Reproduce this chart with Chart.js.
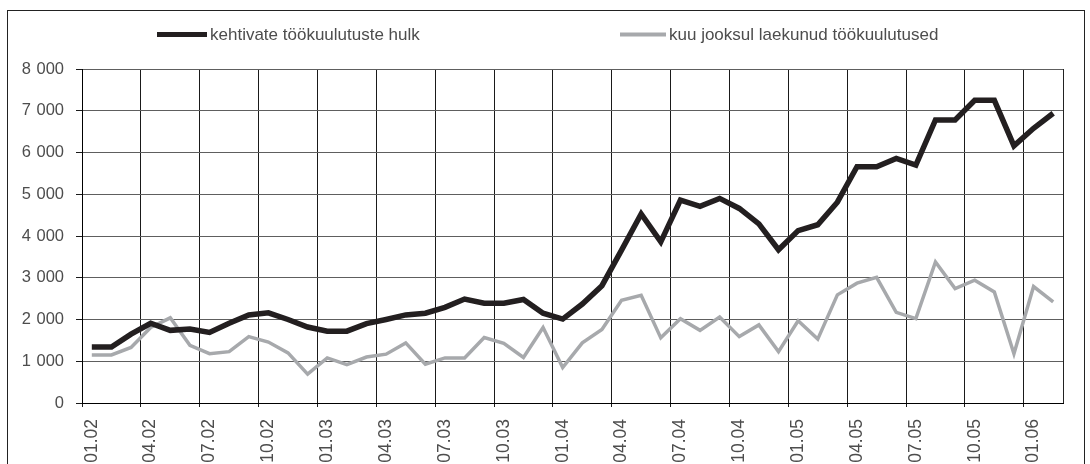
<!DOCTYPE html>
<html>
<head>
<meta charset="utf-8">
<script src="https://cdn.jsdelivr.net/npm/chart.js@4.4.1/dist/chart.umd.min.js"></script>
<style>
html,body{margin:0;padding:0;background:#fff;}
#wrap{position:relative;width:1090px;height:464px;}
</style>
</head>
<body>
<div id="wrap"><canvas id="c" width="1090" height="464"></canvas></div>
<script>
const months = ["01.02","02.02","03.02","04.02","05.02","06.02","07.02","08.02","09.02","10.02","11.02","12.02",
"01.03","02.03","03.03","04.03","05.03","06.03","07.03","08.03","09.03","10.03","11.03","12.03",
"01.04","02.04","03.04","04.04","05.04","06.04","07.04","08.04","09.04","10.04","11.04","12.04",
"01.05","02.05","03.05","04.05","05.05","06.05","07.05","08.05","09.05","10.05","11.05","12.05",
"01.06","02.06"];
const seriesNames = ["kehtivate töökuulutuste hulk", "kuu jooksul laekunud töökuulutused"];
const validAds = [1340,1340,1650,1910,1740,1770,1690,1910,2110,2160,2000,1820,
1720,1720,1900,2000,2110,2150,2290,2490,2390,2390,2480,2150,
2010,2370,2810,3660,4530,3860,4860,4710,4900,4660,4290,3670,
4130,4270,4810,5660,5660,5860,5700,6780,6780,7250,7250,6160,
6580,6940];
const newAds = [1150,1150,1330,1810,2040,1380,1180,1230,1590,1460,1200,690,
1080,920,1100,1170,1440,930,1080,1080,1570,1430,1090,1810,
850,1440,1760,2460,2580,1560,2020,1740,2060,1590,1870,1230,
1970,1530,2590,2870,3010,2170,2020,3380,2740,2940,2660,1180,
2790,2420];
const yTicks = [0,1000,2000,3000,4000,5000,6000,7000,8000];

const FONT = "'Liberation Sans', Arial, sans-serif";
const TXT = '#4d4d4d';
const colors = ['#231f20', '#a7a9ac'];
const widths = [5.5, 3.5];

function fmt(v){ return String(v).replace(/\B(?=(\d{3})+(?!\d))/g, '\u2004'); }

const frame = {
  id: 'frame',
  beforeDraw(chart){
    const c = chart.ctx;
    c.save();
    c.fillStyle = '#fff';
    c.fillRect(0,0,chart.width,chart.height);
    c.strokeStyle = '#222';
    c.lineWidth = 1;
    c.strokeRect(7.5, 10.5, 1077, 480);
    c.restore();
  },
  afterDraw(chart){
    const c = chart.ctx;
    const a = chart.chartArea;
    c.save();
    c.strokeStyle = '#222';
    c.lineWidth = 1;
    c.beginPath();
    c.moveTo(Math.round(a.right)+0.5, a.top);
    c.lineTo(Math.round(a.right)+0.5, a.bottom);
    c.stroke();
    const items = [{x0:157, x1:207, tx:210}, {x0:620, x1:666, tx:669}];
    c.font = "17px " + FONT;
    c.textBaseline = 'middle';
    c.fillStyle = TXT;
    items.forEach((it, i) => {
      c.strokeStyle = colors[i];
      c.lineWidth = i === 0 ? 5 : 4;
      c.beginPath();
      c.moveTo(it.x0, 34.5);
      c.lineTo(it.x1, 34.5);
      c.stroke();
      c.fillText(seriesNames[i], it.tx, 35);
    });
    c.restore();
  }
};

new Chart(document.getElementById('c'), {
  type: 'line',
  data: {
    labels: months,
    datasets: [
      { label: seriesNames[0], data: validAds, borderColor: colors[0], backgroundColor: colors[0],
        borderWidth: widths[0], pointRadius: 0, tension: 0, borderJoinStyle: 'miter', borderCapStyle: 'butt' },
      { label: seriesNames[1], data: newAds, borderColor: colors[1], backgroundColor: colors[1],
        borderWidth: widths[1], pointRadius: 0, tension: 0, borderJoinStyle: 'miter', borderCapStyle: 'butt' }
    ]
  },
  options: {
    responsive: false,
    animation: false,
    events: [],
    layout: { padding: { top: 69, right: 27, left: 0, bottom: 0 } },
    plugins: { legend: { display: false }, tooltip: { enabled: false } },
    scales: {
      x: {
        offset: true,
        grid: {
          offset: true,
          lineWidth: 1,
          color: (ctx) => (ctx.index === undefined || ctx.index % 3 === 0) ? '#1a1a1a' : 'rgba(0,0,0,0)',
          tickColor: (ctx) => (ctx.index !== undefined && ctx.index % 3 === 0) ? '#1a1a1a' : 'rgba(0,0,0,0)',
          tickLength: 4
        },
        border: { color: '#000', width: 1 },
        ticks: {
          autoSkip: false,
          minRotation: 90, maxRotation: 90,
          padding: 12,
          color: TXT,
          font: { family: FONT, size: 17.5 },
          callback: function(v, i){ return i % 3 === 0 ? this.getLabelForValue(v) : ''; }
        },
        afterFit: (s) => { s.height = 61; }
      },
      y: {
        min: 0, max: 8000,
        afterBuildTicks: (s) => { s.ticks = yTicks.map(v => ({ value: v })); },
        grid: { color: '#5e5e5e', lineWidth: 1, tickColor: '#1a1a1a', tickLength: 6 },
        border: { color: '#000', width: 1 },
        ticks: {
          padding: 12,
          color: TXT,
          font: { family: FONT, size: 16.5 },
          callback: (v) => fmt(v)
        },
        afterFit: (s) => { s.width = 82; }
      }
    }
  },
  plugins: [frame]
});
</script>
</body>
</html>
